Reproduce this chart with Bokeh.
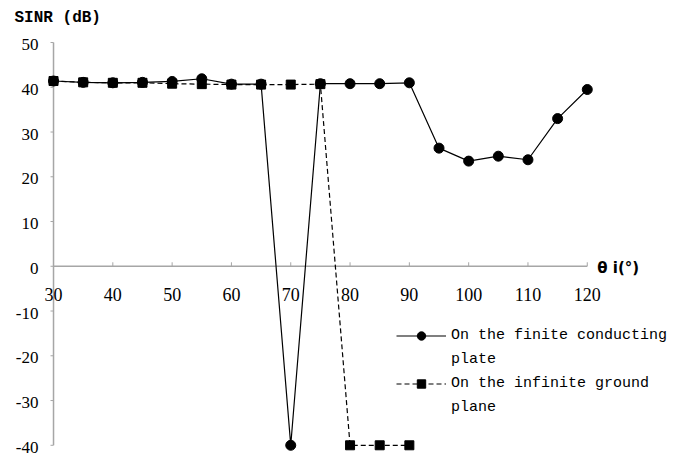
import numpy as np
from bokeh.plotting import figure
from bokeh.models import Range1d, Legend, LegendItem, ColumnDataSource
from bokeh.core.properties import value
from bokeh.embed import file_html
from bokeh.resources import INLINE

# ---- data ----
theta = [30, 35, 40, 45, 50, 55, 60, 65, 70, 75, 80, 85, 90, 95, 100, 105, 110, 115, 120]
sinr_finite = [41.4, 41.1, 41.0, 41.1, 41.3, 41.9, 40.7, 40.7, -40.0, 40.8, 40.8, 40.8, 41.0,
               26.4, 23.5, 24.6, 23.8, 33.0, 39.5]
theta_inf = [30, 35, 40, 45, 50, 55, 60, 65, 70, 75, 80, 85, 90]
sinr_infinite = [41.4, 41.1, 41.0, 41.0, 40.8, 40.7, 40.6, 40.6, 40.6, 40.7, -40.0, -40.0, -40.0]
x_ticks = [30, 40, 50, 60, 70, 80, 90, 100, 110, 120]
x_tick_labels = ["30", "40", "50", "60", "70", "80", "90", "100", "110", "120"]
y_ticks = [-40, -30, -20, -10, 0, 10, 20, 30, 40, 50]
y_tick_labels = ["-40", "-30", "-20", "-10", "0", "10", "20", "30", "40", "50"]
label_finite = ["On the finite conducting", "plate"]
label_infinite = ["On the infinite ground", "plane"]
y_title = "SINR (dB)"
x_title = "\u03b8 i(\u00b0)"

AXIS_GRAY = "#a6a6a6"
SERIF = "Liberation Serif"
MONO = "Liberation Mono"

x0, x1 = min(x_ticks), max(x_ticks)
y0, y1 = min(y_ticks), max(y_ticks)

p = figure(width=687, height=457, output_backend="svg", toolbar_location=None,
           x_axis_type=None, y_axis_type=None,
           x_range=Range1d(21.06, 136.9), y_range=Range1d(-42.73, 59.39),
           min_border=0)
p.outline_line_color = None
p.grid.visible = False
p.background_fill_color = "white"
p.border_fill_color = "white"

# ---- y axis (vertical line at x = 30) ----
p.segment(x0=[x0], y0=[y0], x1=[x0], y1=[y1], line_color=AXIS_GRAY, line_width=1.5)
p.ray(x=[x0] * len(y_ticks), y=y_ticks, length=3, length_units="screen",
      angle=np.pi, line_color=AXIS_GRAY, line_width=1)
p.text(x=[x0] * len(y_ticks), y=y_ticks, text=y_tick_labels, x_offset=-15, y_offset=2,
       text_align="right", text_baseline="middle", text_font=value(SERIF),
       text_font_size="17px", text_color="black")
p.text(x=[x0], y=[y1], text=[y_title], x_offset=-39, y_offset=-25,
       text_align="left", text_baseline="middle", text_font=value(MONO),
       text_font_size="16px", text_font_style="bold", text_color="black")

# ---- x axis (horizontal line at y = 0) ----
p.segment(x0=[x0], y0=[0], x1=[x1], y1=[0], line_color=AXIS_GRAY, line_width=1.5)
p.ray(x=x_ticks[1:], y=[0] * (len(x_ticks) - 1), length=4, length_units="screen",
      angle=np.pi / 2, line_color=AXIS_GRAY, line_width=1)
p.text(x=x_ticks, y=[0] * len(x_ticks), text=x_tick_labels, y_offset=28,
       text_align="center", text_baseline="middle", text_font=value(SERIF),
       text_font_size="18px", text_color="black")
p.text(x=[x1], y=[0], text=[x_title], x_offset=10, y_offset=2,
       text_align="left", text_baseline="middle", text_font=value("DejaVu Sans"),
       text_font_size="15px", text_font_style="bold", text_color="black")

# ---- series ----
src_inf = ColumnDataSource(dict(x=theta_inf, y=sinr_infinite))
src_fin = ColumnDataSource(dict(x=theta, y=sinr_finite))
l_inf = p.line("x", "y", source=src_inf, line_color="black", line_width=1.2, line_dash="5 3")
l_fin = p.line("x", "y", source=src_fin, line_color="black", line_width=1.2)
s_inf = p.scatter("x", "y", source=src_inf, marker="square", size=9, fill_color="black", line_color="black")
s_fin = p.scatter("x", "y", source=src_fin, marker="circle", size=10, fill_color="black", line_color="black")

# invisible renderer for legend continuation lines
blank = p.scatter(x=[], y=[], marker="circle", size=1, fill_alpha=0, line_alpha=0)

legend = Legend(items=[LegendItem(label=label_finite[0], renderers=[l_fin, s_fin]),
                       LegendItem(label=label_finite[1], renderers=[blank]),
                       LegendItem(label=label_infinite[0], renderers=[l_inf, s_inf]),
                       LegendItem(label=label_infinite[1], renderers=[blank])],
                location=(396, 39), padding=0, margin=0, spacing=3,
                border_line_color=None, background_fill_alpha=0,
                glyph_width=50, glyph_height=21, label_standoff=5,
                label_text_font=MONO, label_text_font_size="15px", label_text_color="black")
p.add_layout(legend, "center")

open("out.html", "w").write(file_html(p, INLINE))
